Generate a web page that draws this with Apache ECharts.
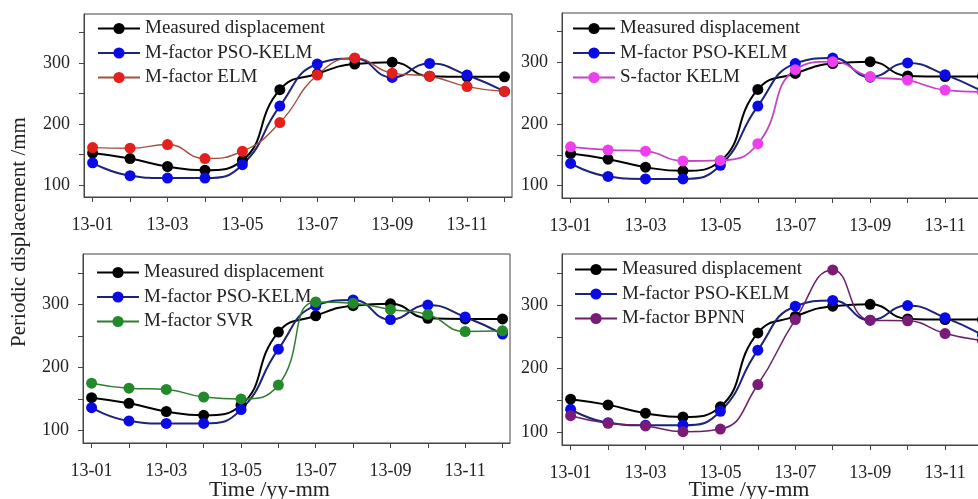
<!DOCTYPE html>
<html>
<head>
<meta charset="utf-8">
<script src="https://cdn.jsdelivr.net/npm/echarts@6/dist/echarts.min.js"></script>
<style>
    html, body { margin: 0; padding: 0; background: #fff; }
    #chart { width: 978px; height: 499px; }
</style>
</head>
<body>
<div id="chart"></div>
<script>
// months on the x axis
const months = ['13-01', '13-02', '13-03', '13-04', '13-05', '13-06', '13-07', '13-08', '13-09', '13-10', '13-11', '13-12']
const yTicks = [100, 150, 200, 250, 300, 350]
const yLabels = [100, 200, 300]

// periodic displacement /mm
const measured = [152, 143, 130, 124, 140, 256, 282, 298, 301, 278, 277, 277]
const psoKelm = [136, 115, 111, 111, 133, 229, 298, 307, 276, 299, 280, 253]
const elm = [161, 160, 166, 143, 155, 202, 280, 308, 283, 278, 261, 253]
const sKelm = [163, 158, 156, 140, 141, 168, 288, 301, 277, 271, 255, 252]
const svr = [175, 167, 165, 153, 150, 172, 304, 302, 292, 284, 257, 258]
const bpnn = [126, 114, 110, 101, 105, 175, 277, 355, 276, 275, 255, 244]

const FONT = 'Liberation Serif'

const panels = [
    { grid: { left: 84, top: 14, width: 428, height: 183 }, legendPos: { left: 92, top: 14 }, other: ['M-factor ELM', elm, '#a4503f', '#e3201b', 1.4], xName: false },
    { grid: { left: 562, top: 13, width: 428, height: 185 }, legendPos: { left: 567, top: 14 }, other: ['S-factor KELM', sKelm, '#c444c4', '#ee3fee', 1.8], xName: false },
    { grid: { left: 83, top: 254, width: 427, height: 189 }, legendPos: { left: 91, top: 258 }, other: ['M-factor SVR', svr, '#2f7d2f', '#228a2a', 1.5], xName: true },
    { grid: { left: 562, top: 254, width: 428, height: 191 }, legendPos: { left: 569, top: 255 }, other: ['M-factor BPNN', bpnn, '#6a1f68', '#7a1b78', 1.5], xName: true },
]

function toPoints(arr) {
    return months.map((m, i) => [i + 1, arr[i]])
}

function lineSeries(name, arr, lineColor, dotColor, width, idx) {
    return {
        name: name,
        type: 'line',
        xAxisIndex: idx,
        yAxisIndex: idx,
        data: toPoints(arr),
        smooth: 0.5,
        symbol: 'circle',
        symbolSize: 11,
        lineStyle: { color: lineColor, width: width },
        itemStyle: { color: dotColor },
        emphasis: { disabled: true },
        animation: false,
    }
}

const option = {
    backgroundColor: '#fff',
    textStyle: { fontFamily: FONT },
    grid: [],
    xAxis: [],
    yAxis: [],
    legend: [],
    series: [],
    graphic: [
        {
            type: 'text',
            x: 19,
            y: 232,
            rotation: Math.PI / 2,
            style: {
                text: 'Periodic displacement /mm',
                font: '21px "Liberation Serif"',
                fill: '#222',
                textAlign: 'center',
                textVerticalAlign: 'middle',
            },
        },
    ],
}

panels.forEach((p, idx) => {
    option.grid.push(Object.assign({ show: true, borderColor: '#444', borderWidth: 1, outerBoundsMode: 'none', containLabel: false }, p.grid))
    option.xAxis.push({
        type: 'value',
        gridIndex: idx,
        min: 0.77,
        max: 12.2,
        axisLine: { show: true, lineStyle: { color: '#444' } },
        axisTick: { show: true, length: 5, customValues: months.map((m, i) => i + 1), lineStyle: { color: '#444' } },
        axisLabel: {
            customValues: [1, 3, 5, 7, 9, 11],
            formatter: v => months[Math.round(v) - 1],
            fontFamily: FONT,
            fontSize: 18,
            color: '#222',
            margin: 19,
        },
        splitLine: { show: false },
    })
    option.yAxis.push({
        type: 'value',
        gridIndex: idx,
        min: 80,
        max: 380,
        axisLine: { show: true, lineStyle: { color: '#444' } },
        axisTick: { show: true, length: 5, customValues: yTicks, lineStyle: { color: '#444' } },
        axisLabel: {
            customValues: yLabels,
            fontFamily: FONT,
            fontSize: 18,
            color: '#222',
            margin: 14,
        },
        splitLine: { show: false },
    })
    option.legend.push(Object.assign({
        orient: 'vertical',
        itemWidth: 42,
        itemHeight: 14,
        itemGap: 5.5,
        textStyle: { fontFamily: FONT, fontSize: 19, color: '#222' },
        data: ['Measured displacement', 'M-factor PSO-KELM', p.other[0]],
    }, p.legendPos))
    option.series.push(lineSeries('Measured displacement', measured, '#000', '#000', 2, idx))
    option.series.push(lineSeries('M-factor PSO-KELM', psoKelm, '#1c2478', '#0a0ae6', 2, idx))
    option.series.push(lineSeries(p.other[0], p.other[1], p.other[2], p.other[3], p.other[4], idx))
    if (p.xName) {
        option.graphic.push({
            type: 'text',
            x: p.grid.left + p.grid.width / 2 - 27,
            y: 490,
            style: {
                text: 'Time /yy-mm',
                font: '22px "Liberation Serif"',
                fill: '#222',
                textAlign: 'center',
                textVerticalAlign: 'middle',
            },
        })
    }
})

const chart = echarts.init(document.getElementById('chart'))
chart.setOption(option)
</script>
</body>
</html>
